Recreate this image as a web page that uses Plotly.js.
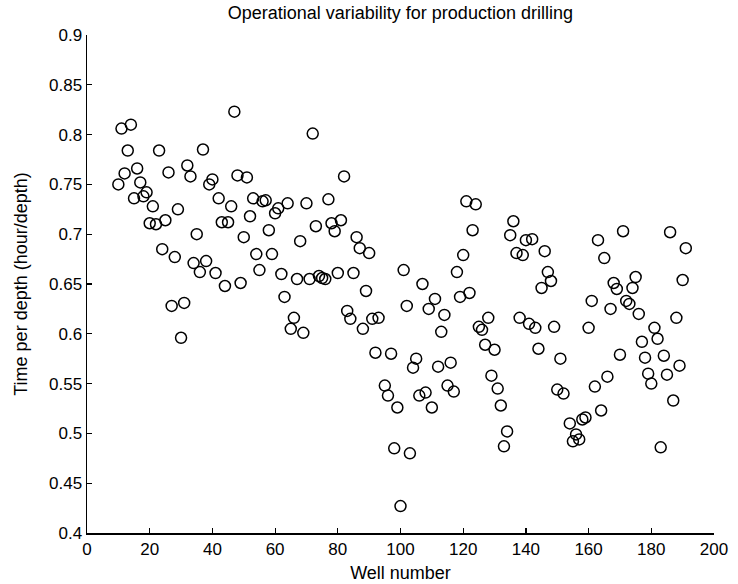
<!DOCTYPE html>
<html>
<head>
<meta charset="utf-8">
<script src="https://cdn.plot.ly/plotly-3.0.1.min.js"></script>
<style>html,body{margin:0;padding:0;background:#fff}#chart{width:738px;height:584px}</style>
</head>
<body>
<div id="chart"></div>
<script>
const wellNumber = [
 10,11,12,13,14,15,16,17,18,19,20,21,22,23,24,25,26,27,28,29,
 30,31,32,33,34,35,36,37,38,39,40,41,42,43,44,45,46,47,48,49,
 50,51,52,53,54,55,56,57,58,59,60,61,62,63,64,65,66,67,68,69,
 70,71,72,73,74,75,76,77,78,79,80,81,82,83,84,85,86,87,88,89,
 90,91,92,93,95,96,97,98,99,100,101,102,103,104,105,106,107,108,109,110,
 111,112,113,114,115,116,117,118,119,120,121,122,123,124,125,126,127,128,129,130,
 131,132,133,134,135,136,137,138,139,140,141,142,143,144,145,146,147,148,149,150,
 151,152,154,155,156,157,158,159,160,161,162,163,164,165,166,167,168,169,170,171,
 172,173,174,175,176,177,178,179,180,181,182,183,184,185,186,187,188,189,190,191
];
const timePerDepth = [
 0.750,0.806,0.761,0.784,0.810,0.736,0.766,0.752,0.738,0.742,0.711,0.728,0.710,0.784,0.685,0.714,0.762,0.628,0.677,0.725,
 0.596,0.631,0.769,0.758,0.671,0.700,0.662,0.785,0.673,0.750,0.755,0.661,0.736,0.712,0.648,0.712,0.728,0.823,0.759,0.651,
 0.697,0.757,0.718,0.736,0.680,0.664,0.733,0.734,0.704,0.680,0.721,0.726,0.660,0.637,0.731,0.605,0.616,0.655,0.693,0.601,
 0.731,0.655,0.801,0.708,0.658,0.656,0.655,0.735,0.711,0.703,0.661,0.714,0.758,0.623,0.615,0.661,0.697,0.686,0.605,0.643,
 0.681,0.615,0.581,0.616,0.548,0.538,0.580,0.485,0.526,0.427,0.664,0.628,0.480,0.566,0.575,0.538,0.650,0.541,0.625,0.526,
 0.635,0.567,0.602,0.619,0.548,0.571,0.542,0.662,0.637,0.679,0.733,0.641,0.704,0.730,0.607,0.604,0.589,0.616,0.558,0.584,
 0.545,0.528,0.487,0.502,0.699,0.713,0.681,0.616,0.679,0.694,0.610,0.695,0.606,0.585,0.646,0.683,0.662,0.653,0.607,0.544,
 0.575,0.540,0.510,0.492,0.499,0.494,0.514,0.516,0.606,0.633,0.547,0.694,0.523,0.676,0.557,0.625,0.651,0.645,0.579,0.703,
 0.633,0.630,0.646,0.657,0.620,0.592,0.576,0.560,0.550,0.606,0.595,0.486,0.578,0.559,0.702,0.533,0.616,0.568,0.654,0.686
];
const xTickVals = [0,20,40,60,80,100,120,140,160,180,200];
const yTickVals = [0.4,0.45,0.5,0.55,0.6,0.65,0.7,0.75,0.8,0.85,0.9];
const yTickText = ["0.4","0.45","0.5","0.55","0.6","0.65","0.7","0.75","0.8","0.85","0.9"];

const font = "Liberation Sans, Arial, sans-serif";
Plotly.newPlot('chart', [{
  x: wellNumber, y: timePerDepth, type: 'scatter', mode: 'markers',
  marker: {symbol: 'circle-open', size: 11, color: '#000', line: {color: '#000', width: 1.5}},
  showlegend: false
}], {
  width: 738, height: 584,
  margin: {l: 87, r: 24, t: 35, b: 51, pad: 0},
  paper_bgcolor: '#fff', plot_bgcolor: '#fff',
  font: {family: font, size: 17, color: '#000'},
  title: {text: 'Operational variability for production drilling', font: {family: font, size: 18, color: '#000'},
          x: 0.5425, xanchor: 'center', y: 0.979, yanchor: 'middle'},
  xaxis: {range: [0, 200], tickvals: xTickVals, ticks: 'inside', ticklen: 5, tickwidth: 1.2, tickcolor: '#000',
          showline: true, linecolor: '#000', linewidth: 1.5, showgrid: false, zeroline: false, mirror: false,
          tickfont: {family: font, size: 17, color: '#000'},
          title: {text: 'Well number', font: {family: font, size: 18, color: '#000'}, standoff: 8}},
  yaxis: {range: [0.4, 0.9], tickvals: yTickVals, ticktext: yTickText, ticks: 'inside', ticklen: 5, tickwidth: 1.2, tickcolor: '#000',
          showline: true, linecolor: '#000', linewidth: 1.5, showgrid: false, zeroline: false, mirror: false,
          tickfont: {family: font, size: 17, color: '#000'},
          title: {text: 'Time per depth (hour/depth)', font: {family: font, size: 18, color: '#000'}, standoff: 16}}
}, {displayModeBar: false, staticPlot: true});
</script>
</body>
</html>
